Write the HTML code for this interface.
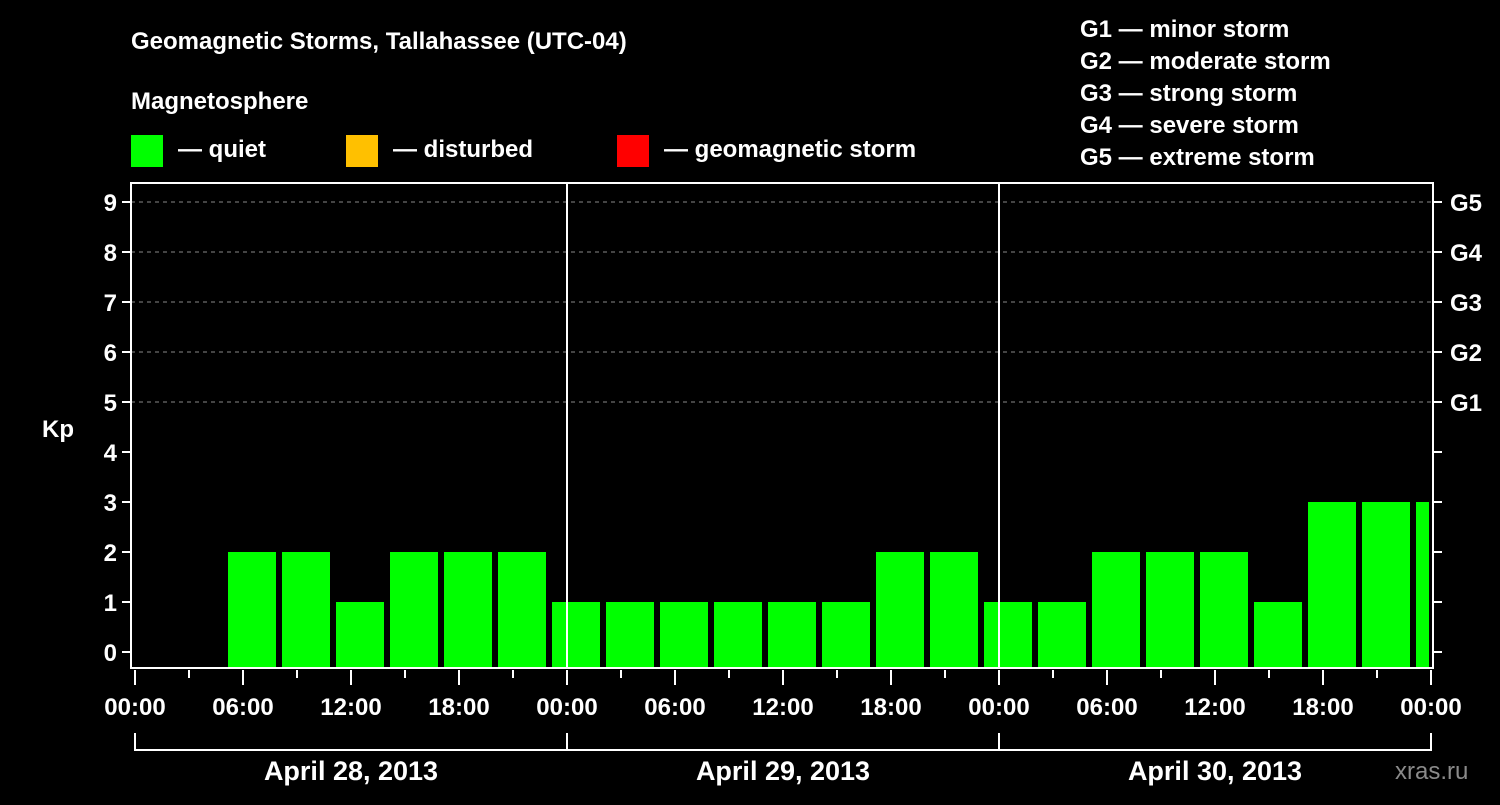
<!DOCTYPE html>
<html><head><meta charset="utf-8"><style>
body{margin:0;background:#000;width:1500px;height:800px;overflow:hidden}
svg text{font-family:"Liberation Sans",sans-serif;font-weight:bold;fill:#fff}
</style></head><body>
<svg id="c" width="1500" height="800">
<text x="131" y="49" font-size="24">Geomagnetic Storms, Tallahassee (UTC-04)</text>
<text x="131" y="109" font-size="24">Magnetosphere</text>
<g>
<rect x="131" y="135" width="32" height="32" fill="#00ff00"/>
<text x="178" y="157" font-size="24">— quiet</text>
<rect x="346" y="135" width="32" height="32" fill="#ffc000"/>
<text x="393" y="157" font-size="24">— disturbed</text>
<rect x="617" y="135" width="32" height="32" fill="#ff0000"/>
<text x="664" y="157" font-size="24">— geomagnetic storm</text>
</g>
<g font-size="24">
<text x="1080" y="37">G1 — minor storm</text>
<text x="1080" y="69">G2 — moderate storm</text>
<text x="1080" y="101">G3 — strong storm</text>
<text x="1080" y="133">G4 — severe storm</text>
<text x="1080" y="165">G5 — extreme storm</text>
</g>
<text x="42" y="437" font-size="24">Kp</text>
<text x="1395" y="779" font-size="24" fill="#888" style="fill:#8a8a8a;font-weight:normal">xras.ru</text>
<g id="plot"></g>
</svg>
<script>
const startHours=[5,8,11,14,17,20,23,26,29,32,35,38,41,44,47,50,53,56,59,62,65,68,71];
const kpValues=[2,2,1,2,2,2,1,1,1,1,1,1,2,2,1,1,2,2,2,1,3,3,3];
const yTicks=[0,1,2,3,4,5,6,7,8,9];
const gLabels=["G1","G2","G3","G4","G5"];
const xTickLabels=["00:00","06:00","12:00","18:00"];
const dayLabels=["April 28, 2013","April 29, 2013","April 30, 2013"];
const NS="http://www.w3.org/2000/svg";
const g=document.getElementById('plot');
const L=131,R=1433,T=183,B=668,X0=135,HP=18;
const x=h=>X0+h*HP;
const y=v=>652-v*50;
function mk(t,a,p){const e=document.createElementNS(NS,t);for(const k in a)e.setAttribute(k,a[k]);(p||g).appendChild(e);return e;}
// grid
yTicks.forEach(v=>{
 if(v>=5){const ln=mk('line',{x1:L,x2:R,y1:y(v),y2:y(v),stroke:'#888','stroke-dasharray':'4,4','stroke-width':1});
 
 }
 const tk=mk('line',{x1:L-9,x2:L,y1:y(v),y2:y(v),stroke:'#fff','stroke-width':2});
 
 
 const tr=mk('line',{x1:R,x2:R+9,y1:y(v),y2:y(v),stroke:'#fff','stroke-width':2});
 
 
 const tl=mk('text',{x:L-14,y:y(v)+9,'text-anchor':'end','font-size':24});
 tl.textContent=v;
 
 
});
gLabels.forEach((s,i)=>{
 const t=mk('text',{x:1450,y:y(5+i)+9,'font-size':24});t.textContent=s;
 
 
});
// bars
startHours.forEach((h,i)=>{
 const x1=x(h)+3,x2=Math.min(x(h+3)-3,x(72)-2);
 const r=mk('rect',{x:x1,y:y(kpValues[i]),width:x2-x1,height:B-1-y(kpValues[i]),fill:'#00ff00'});
 
 
});
// day separators
[1,2].forEach(d=>{const l=mk('line',{x1:x(24*d),x2:x(24*d),y1:T,y2:B,stroke:'#fff','stroke-width':2});
 
 });
// frame
const fr=mk('rect',{x:L,y:T,width:R-L,height:B-T,fill:'none',stroke:'#fff','stroke-width':2});


// x ticks
for(let h=0;h<=72;h+=3){
 const major=h%6===0;
 const t=mk('line',{x1:x(h),x2:x(h),y1:B+2,y2:major?B+17:B+10,stroke:'#fff','stroke-width':2});
 
 
 if(major){const lb=mk('text',{x:x(h),y:B+47,'text-anchor':'middle','font-size':24});
 lb.textContent=xTickLabels[(h%24)/6];
 
 }
}
// day brackets
dayLabels.forEach((s,d)=>{
 const p=mk('path',{d:`M${x(24*d)},733 V750 H${x(24*d+24)} V733`,fill:'none',stroke:'#fff','stroke-width':2});
 
 
 const t=mk('text',{x:x(24*d+12),y:780,'text-anchor':'middle','font-size':27});t.textContent=s;
 
 
});
</script>
</body></html>
